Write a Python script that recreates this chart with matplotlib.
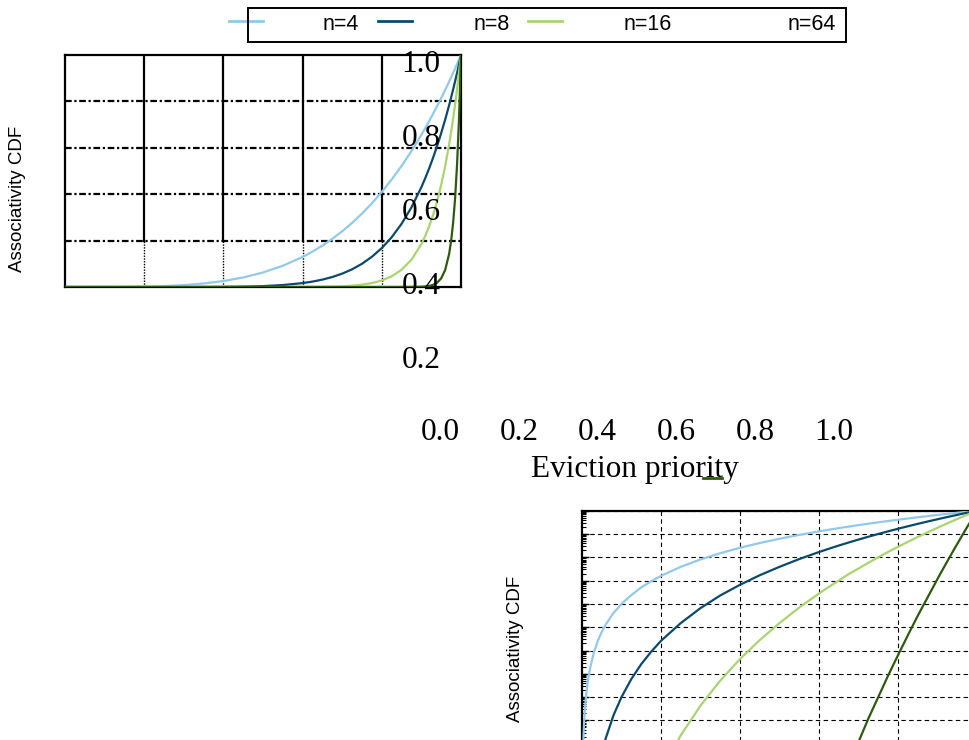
import matplotlib.pyplot as plt
from matplotlib.lines import Line2D
from matplotlib.patches import Rectangle
from matplotlib.ticker import LogLocator, NullFormatter

# valores (CDF de asociatividad vs prioridad de desalojo)
prioridad = [0.0, 0.002, 0.004, 0.006, 0.008, 0.01, 0.015, 0.02, 0.03, 0.04, 0.05,
             0.06, 0.08, 0.1, 0.125, 0.15, 0.175, 0.2, 0.25, 0.3, 0.35, 0.4, 0.45,
             0.5, 0.55, 0.6, 0.625, 0.65, 0.675, 0.7, 0.725, 0.75, 0.775, 0.8,
             0.825, 0.85, 0.875, 0.9, 0.91, 0.92, 0.93, 0.94, 0.95, 0.96, 0.97,
             0.975, 0.98, 0.985, 0.99, 0.995, 1.0]

cdf_n4 = [0.0, 1.6e-11, 2.6e-10, 1.3e-9, 4.1e-9, 1e-8, 5.1e-8, 1.6e-7, 8.1e-7,
          2.6e-6, 6.3e-6, 1.3e-5, 4.1e-5, 1e-4, 2.4e-4, 5.1e-4, 9.4e-4, 1.6e-3,
          3.9e-3, 8.1e-3, 0.015, 0.0256, 0.041, 0.0625, 0.0915, 0.1296, 0.1526,
          0.1785, 0.2076, 0.2401, 0.2763, 0.3164, 0.3608, 0.4096, 0.4632, 0.522,
          0.5862, 0.6561, 0.6857, 0.7164, 0.748, 0.7807, 0.8145, 0.8493, 0.8853,
          0.9037, 0.9224, 0.9413, 0.9606, 0.9801, 1.0]
cdf_n8 = [0.0, 2.6e-22, 6.6e-20, 1.7e-18, 1.7e-17, 1e-16, 2.6e-15, 2.6e-14, 6.6e-13,
          6.6e-12, 3.9e-11, 1.7e-10, 1.7e-9, 1e-8, 6.0e-8, 2.6e-7, 8.8e-7, 2.6e-6,
          1.5e-5, 6.6e-5, 2.3e-4, 6.6e-4, 1.7e-3, 3.9e-3, 8.4e-3, 0.0168, 0.0233,
          0.0319, 0.0431, 0.0576, 0.0763, 0.1001, 0.1302, 0.1678, 0.2146, 0.2725,
          0.3436, 0.4305, 0.4703, 0.5132, 0.5595, 0.6095, 0.6634, 0.7214, 0.7837,
          0.8167, 0.8508, 0.886, 0.9227, 0.9606, 1.0]
cdf_n16 = [0.0, 6.6e-44, 4.3e-39, 2.8e-36, 2.8e-34, 1e-32, 6.6e-30, 6.6e-28, 4.3e-25,
           4.3e-23, 1.5e-21, 2.8e-20, 2.8e-18, 1e-16, 3.6e-15, 6.6e-14, 7.7e-13,
           6.6e-12, 2.3e-10, 4.3e-9, 5.1e-8, 4.3e-7, 2.8e-6, 1.5e-5, 7.0e-5,
           2.8e-4, 5.4e-4, 1.0e-3, 1.9e-3, 3.3e-3, 5.8e-3, 0.01, 0.017, 0.0281,
           0.0461, 0.0743, 0.118, 0.1853, 0.2212, 0.2634, 0.313, 0.3715, 0.4401,
           0.5204, 0.6142, 0.667, 0.7238, 0.785, 0.8515, 0.9227, 1.0]
cdf_n64 = [0.0, 1.8e-173, 3.4e-154, 6e-143, 6e-135, 1e-128, 1.9e-117, 1.8e-109,
           3.4e-98, 3.4e-90, 5e-84, 6e-79, 6e-71, 1e-64, 1.6e-58, 1.9e-53, 3.5e-49,
           1.8e-45, 3e-39, 3.4e-34, 6.6e-30, 3.4e-26, 6.4e-23, 5.4e-20, 2.4e-17,
           6.3e-15, 8.6e-14, 1.1e-12, 1.2e-11, 1.2e-10, 1.2e-9, 1.0e-8, 8.4e-8,
           6.3e-7, 4.5e-6, 3.1e-5, 1.9e-4, 1.18e-3, 2.4e-3, 4.8e-3, 9.6e-3, 0.0191,
           0.0375, 0.0733, 0.1423, 0.1979, 0.2745, 0.3797, 0.5257, 0.7249, 1.0]

series = [cdf_n4, cdf_n8, cdf_n16, cdf_n64]
etiquetas = ['n=4', 'n=8', 'n=16', 'n=64']
colores = ['#93c9e8', '#0b4a6b', '#a9d46f', '#2e5a0f']

grid_vals = [0.2, 0.4, 0.6, 0.8]
tick_labels = ['0.0', '0.2', '0.4', '0.6', '0.8', '1.0']

W, H = 969, 740


def fx(x):
    return x / W


def fy(y):
    return 1 - y / H


fig = plt.figure(figsize=(W / 100, H / 100), dpi=100)
serif = 'Liberation Serif'
sans = 'Liberation Sans'

# panel lineal
ax1 = fig.add_axes([fx(65), fy(287), 396 / W, 232 / H])
for cdf, c in zip(series, colores):
    ax1.plot(prioridad, cdf, color=c, lw=1.6, zorder=3)
ax1.set_xlim(0, 1)
ax1.set_ylim(0, 1)
ax1.set_xticks([])
ax1.set_yticks([])
for s in ax1.spines.values():
    s.set_linewidth(1.6)
for v in grid_vals:
    ax1.axhline(v, color='k', lw=1.6, ls=(0, (3, 1.2, 1, 1.2)), zorder=2)
    ax1.axvline(v, ymin=0.2, ymax=1, color='k', lw=1.6, zorder=2)
    ax1.axvline(v, ymin=0, ymax=0.2, color='k', lw=1.0, ls=(0, (1, 1)), zorder=2)
fig.text(fx(18), fy(199), 'Associativity CDF', rotation=90, ha='center', va='center',
         fontsize=13.5, family=sans)

# etiquetas desplazadas
for i, lab in enumerate(tick_labels[1:][::-1]):
    fig.text(fx(421), fy(64 + i * 74), lab, ha='center', va='center',
             fontsize=22.5, family=serif)
for i, lab in enumerate(tick_labels):
    fig.text(fx(440 + i * 78.8), fy(433), lab, ha='center', va='center',
             fontsize=22.5, family=serif)
fig.text(fx(635), fy(470), 'Eviction priority', ha='center', va='center',
         fontsize=22.5, family=serif, zorder=2)

# panel logaritmico
alto2 = 12 * 23.3
ax2 = fig.add_axes([fx(582), fy(510.7 + alto2), 395 / W, alto2 / H])
for cdf, c in zip(series, colores):
    ax2.plot(prioridad, cdf, color=c, lw=1.6, zorder=3)
ax2.set_yscale('log')
ax2.set_xlim(0, 1)
ax2.set_ylim(1e-12, 1)
ax2.set_xticks(grid_vals)
ax2.yaxis.set_major_locator(LogLocator(base=10, numticks=30))
ax2.yaxis.set_minor_locator(LogLocator(base=10, subs=[2, 3, 4, 5, 6, 7, 8, 9], numticks=30))
ax2.yaxis.set_minor_formatter(NullFormatter())
ax2.tick_params(axis='y', which='both', direction='in', labelleft=False)
ax2.tick_params(axis='y', which='major', length=5, width=1)
ax2.tick_params(axis='y', which='minor', length=3, width=0.8)
ax2.tick_params(axis='x', length=0, labelbottom=False)
ax2.grid(True, which='major', color='k', lw=0.8, ls=(0, (4, 3)))
for s in ax2.spines.values():
    s.set_linewidth(1.6)
fig.text(fx(515), fy(649), 'Associativity CDF', rotation=90, ha='center', va='center',
         fontsize=13.5, family=sans)

# leyenda
fig.patches.append(Rectangle((fx(248), fy(42)), 598 / W, 34 / H, transform=fig.transFigure,
                             fill=False, edgecolor='k', lw=1.4, zorder=1))
ley_lineas = [(229, 263, 21), (378, 412, 21), (528, 562, 21), (703, 722, 478)]
ley_textos = [341, 492, 648, 812]
for (x0, x1, y), c in zip(ley_lineas, colores):
    fig.lines.append(Line2D([fx(x0), fx(x1)], [fy(y), fy(y)], transform=fig.transFigure,
                            color=c, lw=2, zorder=1))
for x, lab in zip(ley_textos, etiquetas):
    fig.text(fx(x), fy(25), lab, ha='center', va='center', fontsize=15.5, family=sans)

fig.savefig('out.png', dpi=100)
